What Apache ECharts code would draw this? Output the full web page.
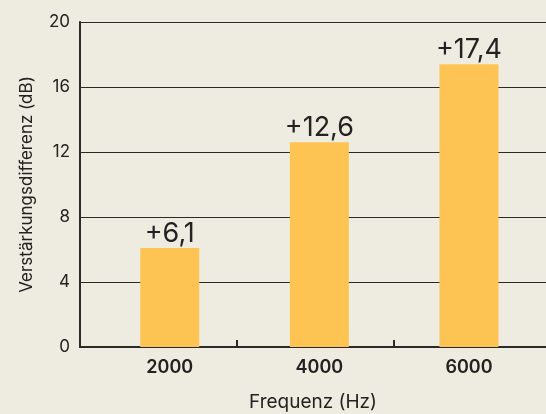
<!DOCTYPE html>
<html>
<head>
<meta charset="utf-8">
<script src="https://cdn.jsdelivr.net/npm/echarts@6/dist/echarts.min.js"></script>
<style>
  html, body { margin: 0; padding: 0; background: #EEEBE1; }
  #chart { width: 546px; height: 414px; }
</style>
</head>
<body>
<div id="chart"></div>
<script>
// Frequencies (Hz) and gain difference (dB)
const frequencies = [2000, 4000, 6000];
const gainDiff = [6.1, 12.6, 17.4];
const freqTickLabels = ['2000', '4000', '6000'];
const yTicks = [0, 4, 8, 12, 16, 20];
// Separator ticks between the bars on the frequency axis
const separatorTicks = [2900, 5000];

const fmtLabel = v => '+' + v.toFixed(1).replace('.', ',');

const chart = echarts.init(document.getElementById('chart'), null, { renderer: 'canvas' });
chart.setOption({
  backgroundColor: '#EEEBE1',
  animation: false,
  grid: { left: 80, right: 0, top: 22, bottom: 67, containLabel: false, outerBoundsMode: 'none' },
  xAxis: {
    type: 'value',
    min: 800,
    max: 7030,
    name: 'Frequenz (Hz)',
    nameLocation: 'middle',
    nameGap: 46,
    nameTextStyle: { fontFamily: 'Inter', fontSize: 19, color: '#222' },
    axisLine: { show: true, lineStyle: { color: '#2a2a2a', width: 2 } },
    axisTick: {
      show: true, inside: true, length: 7,
      customValues: separatorTicks,
      lineStyle: { color: '#2a2a2a', width: 2 }
    },
    axisLabel: {
      customValues: frequencies,
      formatter: v => freqTickLabels[frequencies.indexOf(v)] || '',
      fontFamily: 'Inter', fontWeight: 600, fontSize: 18, color: '#222', margin: 12
    },
    splitLine: { show: false }
  },
  yAxis: {
    type: 'value',
    min: yTicks[0],
    max: yTicks[yTicks.length - 1],
    interval: 4,
    name: 'Verstärkungsdifferenz (dB)',
    nameLocation: 'middle',
    nameGap: 45,
    nameRotate: 90,
    nameTextStyle: { fontFamily: 'Inter', fontSize: 17, color: '#222' },
    axisLine: { show: true, lineStyle: { color: '#2a2a2a', width: 2 } },
    axisTick: { show: false },
    axisLabel: { fontFamily: 'Inter', fontSize: 17, color: '#222', margin: 10 },
    splitLine: { show: true, lineStyle: { color: '#2a2a2a', width: 1 } }
  },
  series: [{
    type: 'bar',
    data: frequencies.map((f, i) => [f, gainDiff[i]]),
    barWidth: 59,
    itemStyle: { color: '#FDC453' },
    label: {
      show: true,
      position: 'top',
      distance: 1,
      formatter: p => fmtLabel(p.value[1]),
      fontFamily: 'Inter', fontSize: 27, color: '#222'
    }
  }]
});
</script>
</body>
</html>
